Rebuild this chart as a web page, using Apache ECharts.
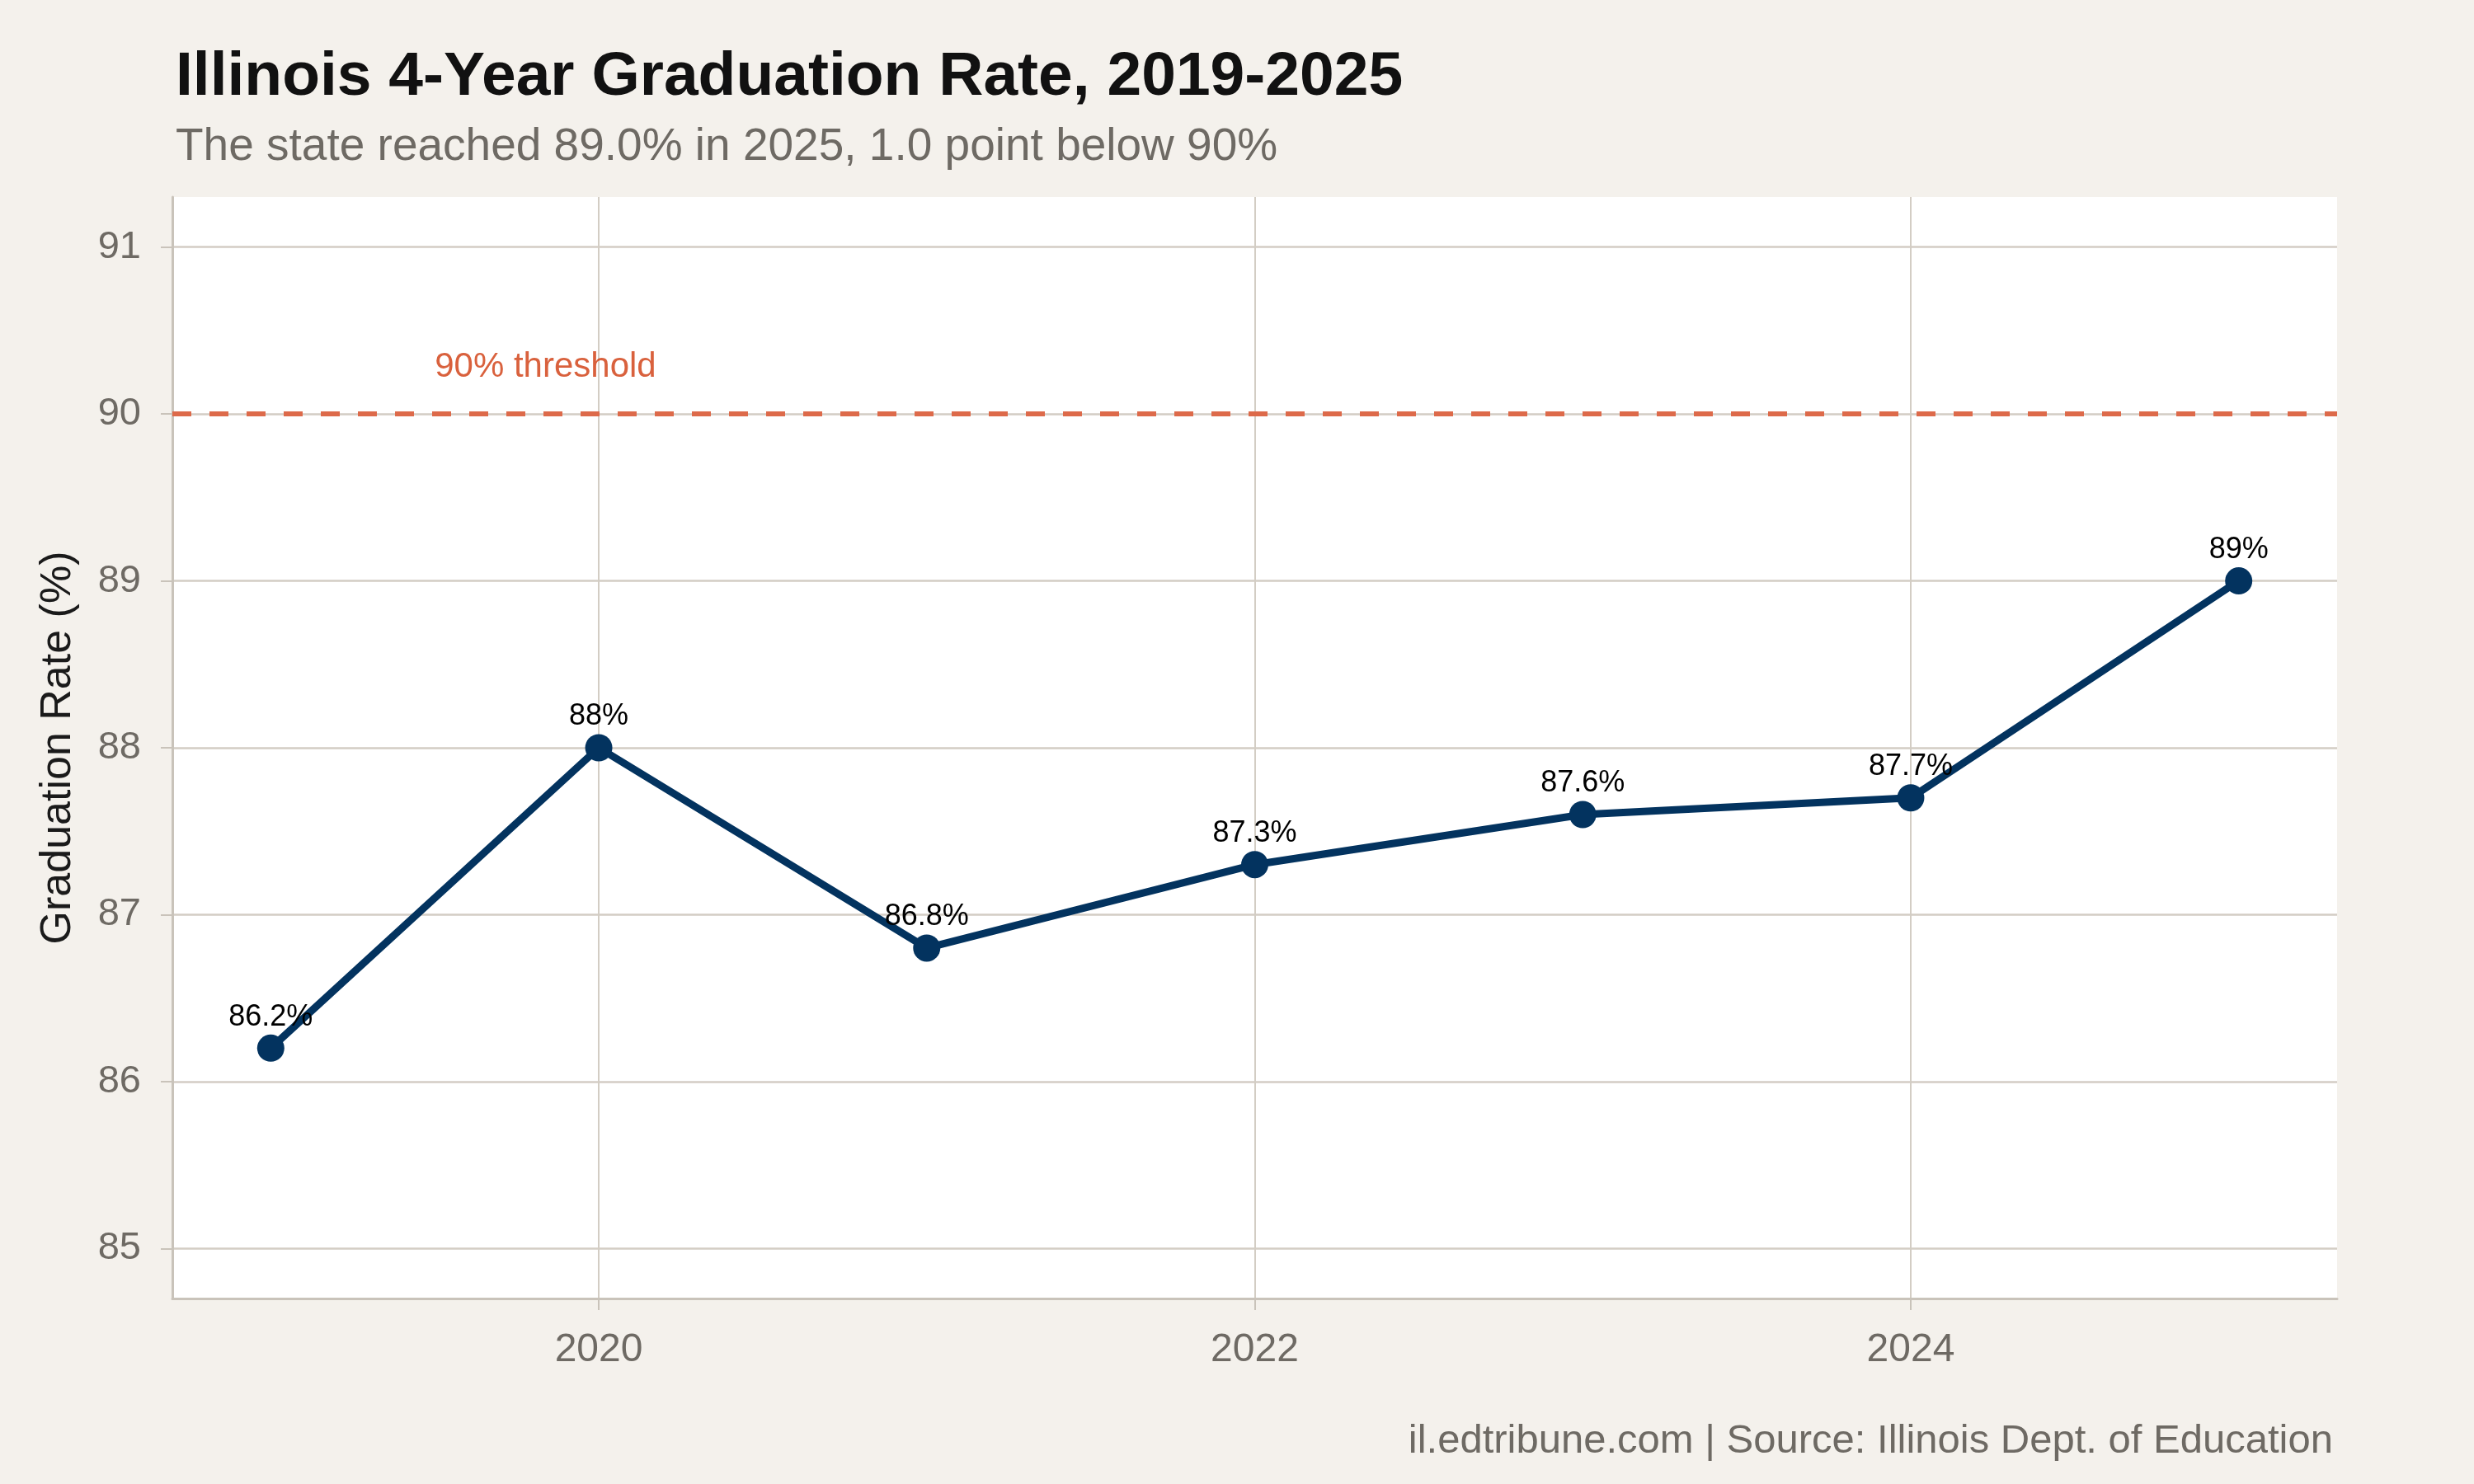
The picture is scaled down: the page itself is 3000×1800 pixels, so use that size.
<!DOCTYPE html>
<html><head><meta charset="utf-8">
<script src="https://cdn.jsdelivr.net/npm/echarts@6/dist/echarts.min.js"></script>
<style>html,body{margin:0;padding:0;background:#F4F1EC}#c{width:3000px;height:1800px}</style>
</head><body><div id="c"></div>
<script>
const years = [2019, 2020, 2021, 2022, 2023, 2024, 2025];
const rates = [86.2, 88.0, 86.8, 87.3, 87.6, 87.7, 89.0];
const xTicks = [2020, 2022, 2024];
const yTicks = [85, 86, 87, 88, 89, 90, 91];
const threshold = 90;
const thresholdLabel = '90% threshold';
const thresholdLabelX = 2019.5;
const titleText = 'Illinois 4-Year Graduation Rate, 2019-2025';
const subtitleText = 'The state reached 89.0% in 2025, 1.0 point below 90%';
const captionText = 'il.edtribune.com | Source: Illinois Dept. of Education';
const yName = 'Graduation Rate (%)';

const FONT = '"Liberation Sans", Arial, Helvetica, sans-serif';
const GRID = '#D3CDC4';
const AXIS = '#C9C3BA';
const NAVY = '#03335F';

const chart = echarts.init(document.getElementById('c'), null, {renderer: 'canvas'});
chart.setOption({
  backgroundColor: '#F4F1EC',
  animation: false,
  textStyle: {fontFamily: FONT},
  title: [
    {text: titleText, left: 208, top: 52,
     textStyle: {fontFamily: FONT, fontSize: 75, fontWeight: 'bold', color: '#111111', lineHeight: 75}},
    {text: subtitleText, left: 208, top: 146,
     textStyle: {fontFamily: FONT, fontSize: 55, fontWeight: 'normal', color: '#6E6A64', lineHeight: 55}},
    {text: captionText, right: 166, top: 1719,
     textStyle: {fontFamily: FONT, fontSize: 49, fontWeight: 'normal', color: '#6E6A64', lineHeight: 49}}
  ],
  grid: {left: 209, right: 166, top: 239, bottom: 225, show: true, backgroundColor: '#FFFFFF', borderWidth: 0, containLabel: false},
  xAxis: {
    type: 'value', min: 2018.7, max: 2025.3,
    axisLine: {show: true, onZero: false, lineStyle: {color: AXIS, width: 3}},
    axisTick: {show: true, length: 14, customValues: xTicks, lineStyle: {color: AXIS, width: 2}},
    axisLabel: {customValues: xTicks, margin: 39, fontSize: 48, color: '#6E6A64', fontFamily: FONT,
                formatter: v => String(v)},
    splitLine: {show: true, lineStyle: {color: GRID, width: 2}}
  },
  yAxis: {
    type: 'value', min: 84.7, max: 91.3,
    name: yName, nameLocation: 'middle', nameGap: 112,
    nameTextStyle: {fontSize: 52, color: '#1A1A1A', fontFamily: FONT},
    axisLine: {show: true, lineStyle: {color: AXIS, width: 3}},
    axisTick: {show: true, length: 14, customValues: yTicks, lineStyle: {color: AXIS, width: 2}},
    axisLabel: {customValues: yTicks, margin: 38, fontSize: 47, color: '#6E6A64', fontFamily: FONT},
    splitLine: {show: true, lineStyle: {color: GRID, width: 2.5}}
  },
  series: [
    {
      type: 'line',
      data: years.map((y, i) => [y, rates[i]]),
      symbol: 'circle', symbolSize: 33,
      lineStyle: {color: NAVY, width: 9},
      itemStyle: {color: NAVY},
      label: {show: true, position: 'top', distance: 3, fontSize: 36, color: '#000000', fontFamily: FONT,
              formatter: p => (+p.value[1].toFixed(1)) + '%'},
      markLine: {
        silent: true, symbol: 'none', animation: false,
        label: {show: false},
        lineStyle: {color: '#DD6A4A', width: 6, type: [23, 22]},
        data: [{yAxis: threshold}]
      },
      z: 3
    },
    {
      type: 'scatter',
      data: [[thresholdLabelX, threshold]],
      symbolSize: 0, silent: true,
      label: {show: true, position: [0, 0], align: 'left', verticalAlign: 'bottom', offset: [0, -36],
              formatter: thresholdLabel, fontSize: 42, lineHeight: 42, color: '#D0390C', fontFamily: FONT},
      z: 4
    }
  ]
});
</script></body></html>
